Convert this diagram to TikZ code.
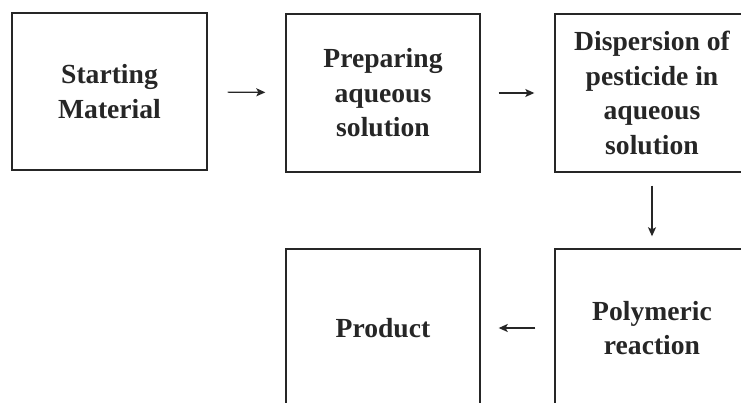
\documentclass[tikz,border=0pt]{standalone}
\usepackage{fontspec}
\setmainfont{Liberation Serif}
\usetikzlibrary{arrows.meta}
\begin{document}
\begin{tikzpicture}[x=1pt,y=1pt,
  stepbox/.style={draw=black!85,line width=1.4pt,minimum width=194pt,minimum height=158pt,
    inner sep=0pt,align=center,font=\fontsize{27.6}{34.5}\selectfont\bfseries,text=black!85},
  flow/.style={draw=black!85,line width=1.2pt,-{Stealth[length=9pt,width=8pt,inset=2pt]}}]
\useasboundingbox (0,0) rectangle (741,-403);
\clip (0,0) rectangle (741,-403);
\node[stepbox,minimum width=195pt,minimum height=157pt] (b1) at (109.5,-91.5) {Starting\\Material};
\node[stepbox] (b2) at (383,-93) {Preparing\\aqueous\\solution};
\node[stepbox] (b3) at (652,-93) {Dispersion of\\pesticide in\\aqueous\\solution};
\node[stepbox] (b4) at (652,-328) {Polymeric\\reaction};
\node[stepbox] (b5) at (383,-328) {Product};
\draw[flow,shorten <=20pt,shorten >=20pt] (b1) -- (b2);
\draw[flow,shorten <=18pt,shorten >=20pt] (b2.east) -- (b3.west);
\draw[flow,shorten <=13pt,shorten >=12pt] (b3) -- (b4);
\draw[flow,shorten <=19pt,shorten >=18pt] (b4) -- (b5);
\end{tikzpicture}
\end{document}
